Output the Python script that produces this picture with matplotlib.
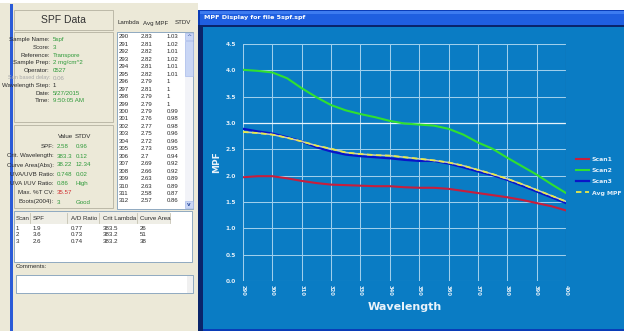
import matplotlib
matplotlib.use("Agg")
import matplotlib.pyplot as plt
from matplotlib.patches import Rectangle
import numpy as np

# ---------------- data ----------------
wavelength = [290, 295, 300, 305, 310, 315, 320, 325, 330, 335, 340, 345, 350,
              355, 360, 365, 370, 375, 380, 385, 390, 395, 400]
scan1 = [1.97, 1.99, 1.99, 1.95, 1.90, 1.86, 1.83, 1.82, 1.81, 1.80, 1.80, 1.78, 1.77,
         1.77, 1.75, 1.71, 1.67, 1.63, 1.59, 1.54, 1.48, 1.42, 1.34]
scan2 = [4.01, 3.99, 3.96, 3.85, 3.66, 3.49, 3.34, 3.24, 3.17, 3.11, 3.04, 2.99, 2.97,
         2.95, 2.89, 2.78, 2.63, 2.51, 2.34, 2.18, 2.02, 1.84, 1.67]
scan3 = [2.89, 2.84, 2.80, 2.73, 2.65, 2.54, 2.46, 2.40, 2.37, 2.35, 2.33, 2.30, 2.28,
         2.28, 2.23, 2.16, 2.08, 2.01, 1.92, 1.81, 1.70, 1.59, 1.48]
avg_mpf = [2.83, 2.81, 2.78, 2.72, 2.65, 2.57, 2.51, 2.44, 2.41, 2.39, 2.38, 2.35, 2.32,
           2.29, 2.25, 2.19, 2.11, 2.03, 1.94, 1.84, 1.73, 1.62, 1.51]
series_names = ["Scan1", "Scan2", "Scan3", "Avg MPF"]
x_ticks = [290, 300, 310, 320, 330, 340, 350, 360, 370, 380, 390, 400]
y_ticks = [0.0, 0.5, 1.0, 1.5, 2.0, 2.5, 3.0, 3.5, 4.0, 4.5]

# table list (lambda, avg MPF, STDV)
tbl_lambda = [290, 291, 292, 293, 294, 295, 296, 297, 298, 299, 300, 301, 302,
              303, 304, 305, 306, 307, 308, 309, 310, 311, 312]
tbl_avg = ["2.83", "2.81", "2.82", "2.82", "2.81", "2.82", "2.79", "2.81", "2.79", "2.79",
           "2.79", "2.76", "2.77", "2.75", "2.72", "2.73", "2.7", "2.69", "2.66", "2.63",
           "2.63", "2.58", "2.57"]
tbl_stdv = ["1.03", "1.02", "1.01", "1.02", "1.01", "1.01", "1", "1", "1", "1",
            "0.99", "0.98", "0.98", "0.96", "0.96", "0.95", "0.94", "0.92", "0.92", "0.89",
            "0.89", "0.87", "0.86"]

info_labels = ["Sample Name:", "Score:", "Reference:", "Sample Prep:", "Operator:",
               "Sun based delay:", "Wavelength Step:", "Date:", "Time:"]
info_values = ["5spf", "3", "Transpore", "2 mg/cm^2", "0527", "0.06", "1", "5/27/2015", "9:50:05 AM"]

res_labels = ["SPF:", "Crit. Wavelength:", "Curve Area(Abs):", "UVA/UVB Ratio:",
              "UVA I/UV Ratio:", "Max. %T CV:", "Boots(2004):"]
res_values = ["2.58", "383.3", "38.22", "0.748", "0.86", "35.57", "3"]
res_stdv = ["0.96", "0.12", "12.34", "0.02", "High", "", "Good"]

scan_header = ["Scan", "SPF", "A/D Ratio", "Crit Lambda", "Curve Area"]
scan_rows = [["1", "1.9", "0.77", "383.5", "26"],
             ["2", "3.6", "0.73", "383.2", "51"],
             ["3", "2.6", "0.74", "383.2", "38"]]

# ---------------- figure ----------------
W, H = 624, 331
fig = plt.figure(figsize=(W / 100, H / 100), dpi=100, facecolor="white")
ui = fig.add_axes([0, 0, 1, 1], zorder=0)
ui.set_xlim(0, W)
ui.set_ylim(H, 0)
ui.axis("off")

NARROW = ["Liberation Sans Narrow", "Liberation Sans", "DejaVu Sans"]
BEIGE = "#ECE9D8"
GREEN_T = "#2E9A3A"
DARK_T = "#2A2A2A"


def rect(x0, y0, x1, y1, fc, ec="none", lw=0.6, z=1):
    ui.add_patch(Rectangle((x0, y0), x1 - x0, y1 - y0, facecolor=fc, edgecolor=ec,
                           linewidth=lw, zorder=z))


def txt(x, y, s, ha="left", size=4.4, color=DARK_T, family=NARROW, weight="normal", z=5):
    ui.text(x, y, s, ha=ha, va="center", fontsize=size, color=color, family=family,
            fontweight=weight, zorder=z)


# left panel
rect(0, 3, 198, H, BEIGE)
rect(10, 4, 12.5, H, "#2B5BD7")

# SPF Data title box
rect(14, 10, 113, 30, BEIGE, ec="#B5B1A0")
txt(63.5, 20, "SPF Data", ha="center", size=7.5, color="#333333", family=["Liberation Sans"])
# info box
rect(14, 32, 113, 122, BEIGE, ec="#B5B1A0")
info_y = [40 + 7.6 * i for i in range(len(info_labels))]
for lab, val, y in zip(info_labels, info_values, info_y):
    grey = lab.startswith("Sun")
    txt(50, y, lab, ha="right", color="#A8A8A8" if grey else DARK_T,
        size=4.0 if grey else 4.4)
    vcol = "#A8A8A8" if grey else (DARK_T if lab.startswith("Wavelength") else GREEN_T)
    txt(53, y, val, color=vcol)

# results box
rect(14, 125, 113, 208, BEIGE, ec="#B5B1A0")
txt(58, 137, "Value", size=4.4)
txt(75, 137, "STDV", size=4.4)
res_y = [147, 156, 165, 174, 183.5, 193, 202]
for lab, val, sd, y in zip(res_labels, res_values, res_stdv, res_y):
    txt(54, y, lab, ha="right")
    txt(57, y, val, color="#D03030" if lab.startswith("Max") else GREEN_T)
    txt(76, y, sd, color=GREEN_T)

# lambda list box
txt(118, 23, "Lambda")
txt(143, 23, "Avg MPF")
txt(175, 23, "STDV")
rect(117, 32, 193, 209, "white", ec="#7F9DB9")
row_y = [37 + 7.45 * i for i in range(len(tbl_lambda))]
for lam, a, s, y in zip(tbl_lambda, tbl_avg, tbl_stdv, row_y):
    txt(119, y, str(lam), size=4.3)
    txt(141, y, a, size=4.3)
    txt(167, y, s, size=4.3)
# scrollbar
rect(185, 32.5, 192.5, 208.5, "#F2F3F8", z=2)
rect(185, 33, 192.5, 40, "#C9D6F5", ec="#9DB3E8", lw=0.4, z=3)
rect(185, 41, 192.5, 76, "#C9D6F5", ec="#9DB3E8", lw=0.4, z=3)
rect(185, 201, 192.5, 208, "#C9D6F5", ec="#9DB3E8", lw=0.4, z=3)
txt(188.7, 36.5, "^", ha="center", size=4.5, color="#3050A0", family=["DejaVu Sans"])
txt(188.7, 204.5, "v", ha="center", size=4.0, color="#3050A0", family=["DejaVu Sans"],
    weight="bold")

# scan table
rect(14, 211, 192, 262, "white", ec="#7F9DB9")
rect(14.5, 212, 170, 224, "#EFEEE6", z=2)
col_x = [16, 33, 71, 103, 140]
sep_x = [30, 67, 99, 137, 170]
for sx in sep_x:
    ui.plot([sx, sx], [213, 223], color="#C5C2B2", lw=0.6, zorder=3)
for h, x in zip(scan_header, col_x):
    txt(x, 218, h)
scan_y = [228, 235, 241.5]
for row, y in zip(scan_rows, scan_y):
    for v, x in zip(row, col_x):
        txt(x, y, v)

# comments
txt(16, 267, "Comments:")
rect(16, 275, 193, 293, "white", ec="#7F9DB9")
rect(187, 275.5, 192.5, 292.5, "#F0F0F0", z=2)

# chart window
rect(198, 10, W, H, "#0A3CB8")
rect(200, 11, W, 25, "#1F5FE0")
rect(200, 11, W, 14, "#3D7BF0")
ui.text(204, 18, "MPF Display for file 5spf.spf", ha="left", va="center", fontsize=4.6,
        color="white", fontweight="bold", family=["DejaVu Sans"], zorder=5)
rect(198, 25, W, 27, "#0A246A")
rect(198, 25, 202.5, H, "#0A246A")
CHART_BG = "#0A7CC4"
rect(202.5, 27, W, 329, CHART_BG)

# ---------------- chart axes ----------------
L, R, T, B = 243, 566, 44, 281
ax = fig.add_axes([L / W, (H - B) / H, (R - L) / W, (B - T) / H], zorder=2)
ax.set_facecolor(CHART_BG)
ax.patch.set_alpha(0.0)
for sp in ax.spines.values():
    sp.set_visible(False)
ax.set_xlim(290, 400)
ax.set_ylim(0, 4.5)
ax.set_xticks(x_ticks)
ax.set_yticks(y_ticks)
ax.grid(True, color="#9FCFEC", lw=0.75)
ax.set_axisbelow(True)
ax.axhline(3.0, color="#E6F3FB", lw=0.9, zorder=1)
ax.axvline(400, color="#0A3A7A", lw=0.8, zorder=1)
ax.set_yticklabels([f"{v:.1f}" for v in y_ticks])
ax.set_xticklabels([str(v) for v in x_ticks])
ax.tick_params(axis="y", length=0, pad=5, labelsize=4.2, labelcolor="#E0EEF8")
ax.tick_params(axis="x", length=0, pad=3, labelsize=3.8, labelcolor="#E0EEF8",
               labelrotation=-90)
for lab in ax.get_xticklabels() + ax.get_yticklabels():
    lab.set_fontweight("bold")
    lab.set_family("DejaVu Sans")

ax.plot(wavelength, scan1, color="#C81E3C", lw=1.5, label=series_names[0], zorder=3)
ax.plot(wavelength, scan2, color="#30E030", lw=1.5, label=series_names[1], zorder=3)
ax.plot(wavelength, scan3, color="#0A14C8", lw=1.6, label=series_names[2], zorder=3)
ax.plot(wavelength, avg_mpf, color="#C8CEC0", lw=1.1, zorder=4)
ax.plot(wavelength, avg_mpf, color="#E8E848", lw=1.3, ls=(0, (3, 2)),
        label=series_names[3], zorder=5)

ax.set_ylabel("MPF", color="#E8F2FA", fontsize=6.5, fontweight="bold")
ax.yaxis.set_label_coords((221 - L) / (R - L), 0.5)
ax.set_xlabel("Wavelength", color="#E8F2FA", fontsize=8, fontweight="bold")
ax.xaxis.set_label_coords(0.5, -(307 - B) / (B - T))
ax.xaxis.label.set_va("center")

leg = ax.legend(loc="upper left", bbox_to_anchor=(576 / W, (H - 157) / H),
                bbox_transform=fig.transFigure, frameon=False, fontsize=4.4,
                handlelength=2.1, handletextpad=0.5, labelspacing=0.95,
                borderpad=0, borderaxespad=0)
for t in leg.get_texts():
    t.set_color("#E0EEFA")
    t.set_fontweight("bold")

fig.savefig("out.png", dpi=100, facecolor="white")
